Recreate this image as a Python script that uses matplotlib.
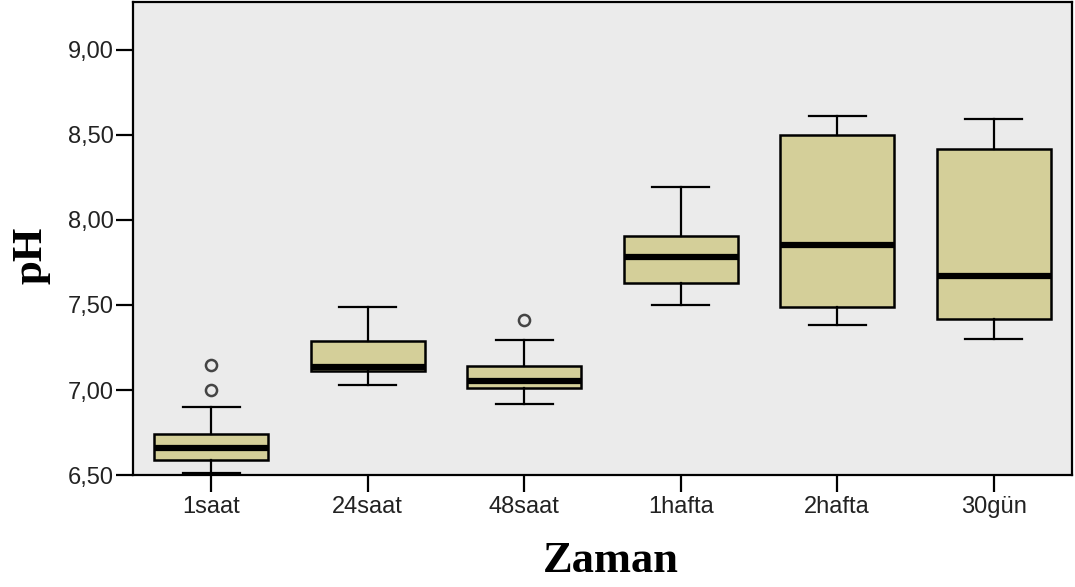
import matplotlib
matplotlib.use("Agg")
import matplotlib.pyplot as plt
from matplotlib.ticker import FixedLocator

categories = ["1saat", "24saat", "48saat", "1hafta", "2hafta", "30gün"]
whislo = [6.51, 7.03, 6.92, 7.50, 7.38, 7.30]
q1     = [6.59, 7.11, 7.01, 7.63, 7.49, 7.42]
med    = [6.66, 7.135, 7.055, 7.78, 7.85, 7.67]
q3     = [6.74, 7.29, 7.14, 7.905, 8.50, 8.415]
whishi = [6.90, 7.49, 7.295, 8.195, 8.61, 8.595]
fliers = [[7.00, 7.15], [], [7.41], [], [], []]
yticks = [6.5, 7.0, 7.5, 8.0, 8.5, 9.0]
ytick_labels = ["6,50", "7,00", "7,50", "8,00", "8,50", "9,00"]

stats = []
for i, c in enumerate(categories):
    stats.append(dict(label=c, whislo=whislo[i], q1=q1[i], med=med[i],
                      q3=q3[i], whishi=whishi[i], fliers=fliers[i]))

fig = plt.figure(figsize=(10.75, 5.87), dpi=100)
ax = fig.add_axes([0.1237, 0.1905, 0.8735, 0.806])
ax.set_facecolor("#EBEBEB")

ax.bxp(stats, positions=range(len(categories)), widths=0.73, capwidths=0.365,
       patch_artist=True, showfliers=True,
       boxprops=dict(facecolor="#D4CF99", edgecolor="black", linewidth=1.8),
       medianprops=dict(color="black", linewidth=4.5, solid_capstyle="butt"),
       whiskerprops=dict(color="black", linewidth=1.6),
       capprops=dict(color="black", linewidth=1.6),
       flierprops=dict(marker="o", markerfacecolor="none", markeredgecolor="#444444",
                       markersize=8, markeredgewidth=1.8))

ax.set_xlim(-0.5, 5.5)
ax.set_ylim(6.5, 9.28)
ax.yaxis.set_major_locator(FixedLocator(yticks))
ax.set_yticklabels(ytick_labels)
ax.set_xticks(range(len(categories)))
ax.set_xticklabels(categories)

for s in ax.spines.values():
    s.set_linewidth(1.6)
ax.tick_params(axis="both", direction="out", length=12, width=1.6, labelsize=17,
               colors="black")
ax.tick_params(axis="y", pad=2)
ax.tick_params(axis="x", pad=3)
for lab in ax.get_xticklabels() + ax.get_yticklabels():
    lab.set_fontfamily("Liberation Sans")
    lab.set_color("#222222")

ax.set_xlabel("Zaman", fontfamily="Liberation Serif", fontweight="bold", fontsize=32)
ax.set_ylabel("pH", fontfamily="Liberation Serif", fontweight="bold", fontsize=31)
ax.xaxis.set_label_coords(0.5085, -0.14)
ax.yaxis.set_label_coords(-0.088, 0.465)

fig.savefig("out.png", dpi=100, facecolor="white")
